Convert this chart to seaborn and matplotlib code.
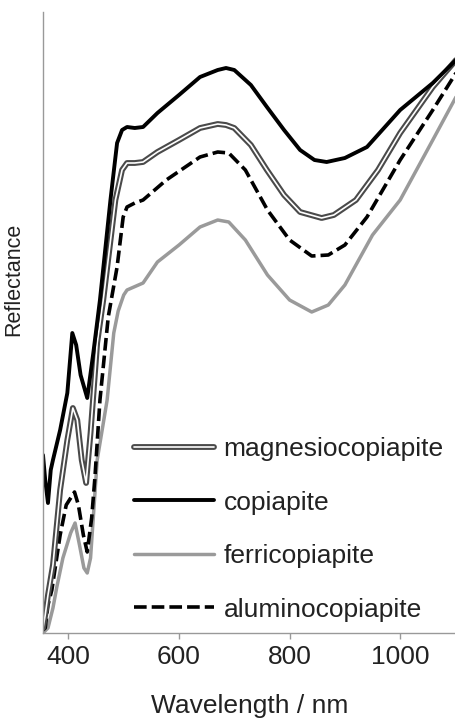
import numpy as np
import pandas as pd
import matplotlib
matplotlib.use("Agg")
import matplotlib.pyplot as plt
import matplotlib.patheffects as pe
import seaborn as sns

# ---- data (arbitrary reflectance units) ----
cop_x = [354, 358, 363, 368, 372, 385, 398, 407, 414, 422, 434, 445, 457, 476, 488, 497, 506,
         520, 535, 561, 600, 638, 670, 685, 700, 730, 759, 790, 819, 845, 867, 900, 940, 1000, 1059, 1101]
cop_y = [178, 153, 130, 163, 173, 203, 240, 300, 288, 258, 235, 280, 333, 433, 490, 503, 506,
         505, 506, 520, 538, 556, 563, 565, 563, 548, 526, 503, 483, 473, 471, 475, 486, 523, 550, 573]

mag_x = [354, 358, 363, 372, 385, 398, 408, 416, 424, 432, 440, 452, 463, 485, 497, 506,
         520, 535, 561, 600, 638, 670, 685, 700, 730, 759, 790, 819, 858, 880, 920, 960, 1000, 1059, 1101]
mag_y = [5, 18, 38, 68, 143, 193, 225, 213, 173, 150, 200, 290, 333, 433, 463, 470,
         470, 471, 481, 493, 505, 509, 508, 505, 488, 463, 438, 421, 415, 418, 433, 463, 500, 546, 573]

alu_x = [354, 358, 363, 370, 385, 396, 411, 418, 427, 434, 442, 448, 457, 472, 488, 499, 506,
         520, 535, 577, 638, 670, 690, 720, 760, 800, 840, 870, 900, 940, 1000, 1059, 1101]
alu_y = [3, 5, 28, 43, 98, 128, 141, 128, 98, 81, 115, 156, 233, 316, 366, 416, 426,
         430, 433, 453, 476, 481, 480, 463, 423, 393, 377, 378, 388, 416, 473, 523, 560]

fer_x = [354, 363, 372, 379, 390, 404, 412, 420, 428, 434, 440, 452, 470, 482, 490, 500, 506,
         535, 561, 600, 638, 670, 690, 720, 760, 800, 840, 870, 900, 950, 1000, 1059, 1101]
fer_y = [0, 5, 25, 46, 75, 100, 110, 88, 65, 60, 75, 173, 233, 300, 322, 338, 343,
         350, 371, 388, 406, 413, 411, 393, 358, 333, 321, 328, 348, 398, 433, 493, 536]

labels = ["magnesiocopiapite", "copiapite", "ferricopiapite", "aluminocopiapite"]
x_ticks = [400, 600, 800, 1000]

sns.set_style("white")
plt.rcParams["font.family"] = ["Liberation Sans", "DejaVu Sans"]

fig = plt.figure(figsize=(4.56, 7.21), dpi=100)
ax = fig.add_axes([43 / 456, 88 / 721, 413 / 456, 621 / 721])

df_cop = pd.DataFrame({"x": cop_x, "y": cop_y})
df_mag = pd.DataFrame({"x": mag_x, "y": mag_y})
df_alu = pd.DataFrame({"x": alu_x, "y": alu_y})
df_fer = pd.DataFrame({"x": fer_x, "y": fer_y})

sns.lineplot(data=df_fer, x="x", y="y", ax=ax, color="#9a9a9a", lw=2.5,
             label=labels[2], sort=False, estimator=None)
sns.lineplot(data=df_alu, x="x", y="y", ax=ax, color="black", lw=2.6,
             ls=(0, (3.5, 1.4)), label=labels[3], sort=False, estimator=None)
sns.lineplot(data=df_mag, x="x", y="y", ax=ax, color="white", lw=1.2,
             path_effects=[pe.Stroke(linewidth=4.2, foreground="#4a4a4a"), pe.Normal()],
             label=labels[0], sort=False, estimator=None)
sns.lineplot(data=df_cop, x="x", y="y", ax=ax, color="black", lw=2.8,
             label=labels[1], sort=False, estimator=None)

ax.set_xlim(354, 1101)
ax.set_ylim(0, 621)
ax.set_xticks(x_ticks)
ax.set_xticklabels([str(t) for t in x_ticks])
ax.set_yticks([])

for s in ["top", "right"]:
    ax.spines[s].set_visible(False)
for s in ["left", "bottom"]:
    ax.spines[s].set_color("#999999")
    ax.spines[s].set_linewidth(1.0)

ax.tick_params(axis="x", which="both", bottom=True, length=4, width=1, color="#999999",
               labelsize=19, labelcolor="#222222", pad=5, direction="out")

ax.set_xlabel("Wavelength / nm", fontsize=19, labelpad=18, color="#222222")
ax.set_ylabel("Reflectance", fontsize=15.5, color="#222222")
ax.yaxis.set_label_coords(-0.045, 0.57)

handles, labs = ax.get_legend_handles_labels()
hmap = dict(zip(labs, handles))
ax.legend([hmap[l] for l in labels], labels, loc="lower left",
          bbox_to_anchor=(0.164, -0.02), frameon=False, fontsize=19,
          handlelength=3.0, handletextpad=0.38, labelspacing=1.12,
          labelcolor="#222222")

fig.savefig("out.png", dpi=100)
